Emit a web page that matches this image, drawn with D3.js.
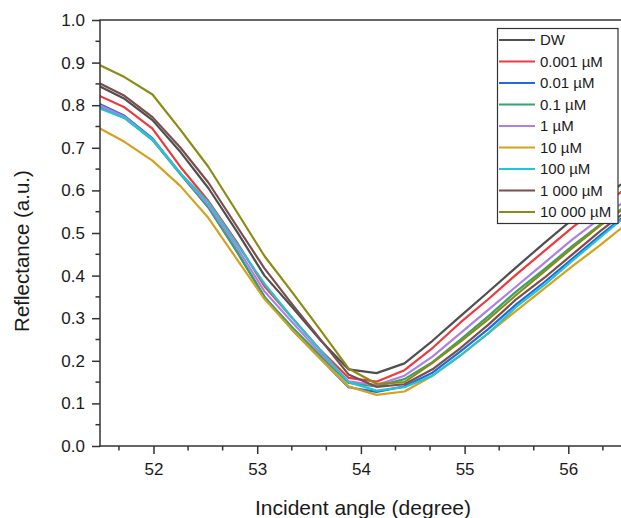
<!DOCTYPE html>
<html><head><meta charset="utf-8">
<script src="https://cdn.jsdelivr.net/npm/d3@7"></script>
<style>body{margin:0;background:#fff}svg{display:block}text{font-family:Arial,"Liberation Sans",sans-serif;fill:#1a1a1a}</style>
</head><body>
<svg id="c" width="621" height="518"></svg>
<script>
const angles = [51.45,51.72,51.99,52.26,52.53,52.80,53.07,53.34,53.61,53.88,54.15,54.42,54.69,54.96,55.23,55.50,55.77,56.04,56.31,56.58];
const seriesNames = ["DW","0.001 µM","0.01 µM","0.1 µM","1 µM","10 µM","100 µM","1 000 µM","10 000 µM"];
const colors = ["#4f4f4f","#ec3b3f","#2368dc","#33a46c","#b07fe3","#d6a11e","#22c6d2","#7b4d4d","#8c8c15"];
const dw     = [0.848,0.815,0.765,0.690,0.605,0.505,0.400,0.325,0.248,0.180,0.171,0.194,0.247,0.305,0.362,0.420,0.477,0.532,0.582,0.625];
const c0001  = [0.825,0.795,0.745,0.655,0.575,0.480,0.375,0.300,0.225,0.160,0.151,0.178,0.230,0.290,0.345,0.403,0.458,0.513,0.563,0.608];
const c001   = [0.806,0.775,0.722,0.640,0.560,0.458,0.350,0.272,0.205,0.138,0.127,0.140,0.172,0.222,0.275,0.333,0.385,0.440,0.495,0.548];
const c01    = [0.798,0.770,0.718,0.638,0.560,0.458,0.350,0.278,0.212,0.148,0.140,0.157,0.197,0.250,0.305,0.363,0.415,0.470,0.520,0.568];
const c1     = [0.803,0.773,0.720,0.640,0.565,0.468,0.363,0.290,0.218,0.152,0.143,0.165,0.210,0.265,0.320,0.375,0.430,0.485,0.535,0.580];
const c10    = [0.750,0.714,0.670,0.610,0.535,0.440,0.345,0.272,0.205,0.140,0.120,0.128,0.165,0.212,0.265,0.318,0.370,0.422,0.472,0.525];
const c100   = [0.795,0.770,0.720,0.640,0.572,0.476,0.381,0.300,0.225,0.150,0.130,0.138,0.165,0.213,0.265,0.327,0.378,0.435,0.490,0.545];
const c1000  = [0.855,0.822,0.772,0.700,0.618,0.517,0.417,0.332,0.250,0.168,0.139,0.145,0.180,0.230,0.285,0.345,0.395,0.450,0.505,0.555];
const c10000 = [0.898,0.866,0.825,0.742,0.655,0.551,0.446,0.360,0.272,0.182,0.146,0.150,0.195,0.245,0.298,0.355,0.410,0.465,0.518,0.565];
const allSeries = [dw,c0001,c001,c01,c1,c10,c100,c1000,c10000];
const xTicks = [52,53,54,55,56];
const yTicks = [0,0.1,0.2,0.3,0.4,0.5,0.6,0.7,0.8,0.9,1.0];

const svg = d3.select("#c");
const L = 100, T = 20, B = 446, R = 640;
const x = d3.scaleLinear().domain([51.484, 51.484 + (R-L)/103.7]).range([L, R]);
const y = d3.scaleLinear().domain([0,1]).range([B, T]);

svg.append("clipPath").attr("id","clip").append("rect").attr("x",L).attr("y",T).attr("width",R-L).attr("height",B-T);

const line = d3.line().x((d,i)=>x(angles[i])).y(d=>y(d));
const g = svg.append("g").attr("clip-path","url(#clip)");
allSeries.forEach((s,k)=>{
  g.append("path").attr("d",line(s)).attr("fill","none").attr("stroke",colors[k]).attr("stroke-width",2.2).attr("stroke-linejoin","round");
});

const ax = "#333";
const yAxis = d3.axisLeft(y).tickValues(yTicks).tickFormat(d3.format(".1f")).tickSize(8).tickPadding(7);
const gy = svg.append("g").attr("transform",`translate(${L},0)`).call(yAxis);
gy.select(".domain").remove();
gy.selectAll(".tick line").attr("stroke",ax).attr("stroke-width",1.5);
gy.selectAll(".tick text").attr("font-size",17).style("font-family","Arial, 'Liberation Sans', sans-serif").attr("fill","#1a1a1a");
const yMinor = d3.range(0.05,1,0.1);
svg.append("g").selectAll("line").data(yMinor).join("line")
  .attr("x1",L-4.5).attr("x2",L).attr("y1",d=>y(d)).attr("y2",d=>y(d)).attr("stroke",ax).attr("stroke-width",1.5);
const xAxis = d3.axisBottom(x).tickValues(xTicks).tickFormat(d3.format("d")).tickSize(8).tickPadding(9);
const gx = svg.append("g").attr("transform",`translate(0,${B})`).call(xAxis);
gx.select(".domain").remove();
gx.selectAll(".tick line").attr("stroke",ax).attr("stroke-width",1.5);
gx.selectAll(".tick text").attr("font-size",17).style("font-family","Arial, 'Liberation Sans', sans-serif").attr("fill","#1a1a1a");
const xMinor = [];
xTicks.concat([51]).forEach(t=>{ xMinor.push(t+1/3, t+2/3); });
svg.append("g").selectAll("line").data(xMinor.filter(v=>x(v)>L+1 && x(v)<621)).join("line")
  .attr("y1",B).attr("y2",B+4.5).attr("x1",d=>x(d)).attr("x2",d=>x(d)).attr("stroke",ax).attr("stroke-width",1.5);
svg.append("line").attr("x1",L).attr("x2",L).attr("y1",T).attr("y2",B+0.75).attr("stroke",ax).attr("stroke-width",1.5);
svg.append("line").attr("x1",L-0.75).attr("x2",R).attr("y1",B).attr("y2",B).attr("stroke",ax).attr("stroke-width",1.5);
svg.append("line").attr("x1",L-0.75).attr("x2",R).attr("y1",T).attr("y2",T).attr("stroke",ax).attr("stroke-width",1.5);

svg.append("text").attr("x",363).attr("y",515).attr("text-anchor","middle").attr("font-size",21).text("Incident angle (degree)");
svg.append("text").attr("transform","translate(29,251) rotate(-90)").attr("text-anchor","middle").attr("font-size",20.5).text("Reflectance (a.u.)");

const lg = svg.append("g");
lg.append("rect").attr("x",497.5).attr("y",28.5).attr("width",120.5).attr("height",195).attr("fill","#fff").attr("stroke","#333").attr("stroke-width",1.2);
seriesNames.forEach((n,k)=>{
  const yy = 40 + k*21.5;
  lg.append("line").attr("x1",499).attr("x2",535).attr("y1",yy).attr("y2",yy).attr("stroke",colors[k]).attr("stroke-width",2.2);
  lg.append("text").attr("x",540).attr("y",yy).attr("dy","0.35em").attr("font-size",15).text(n);
});
</script>
</body></html>
